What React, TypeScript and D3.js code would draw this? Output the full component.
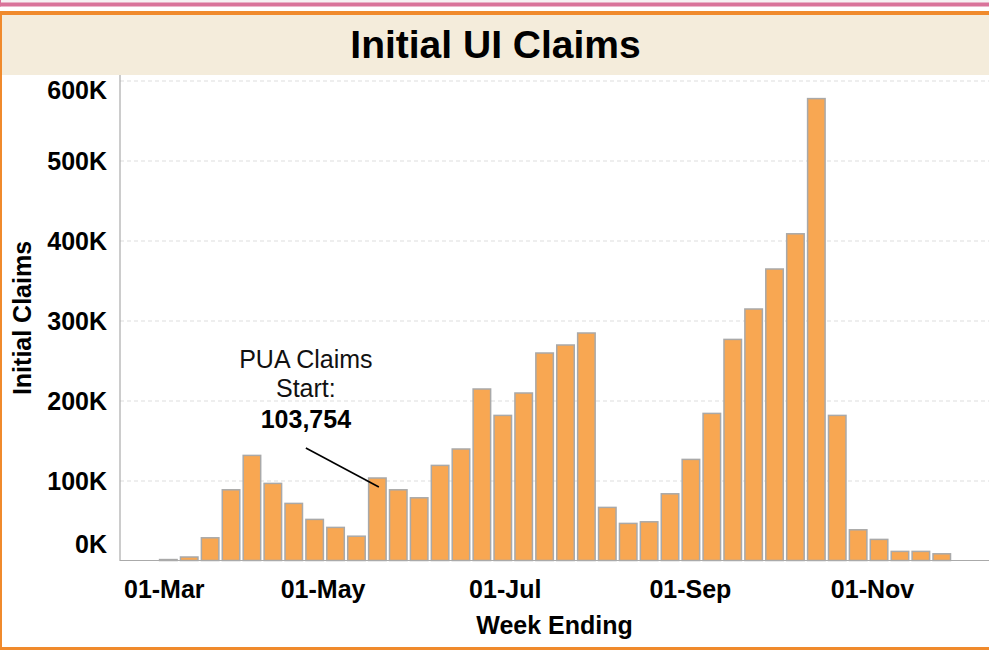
import React from 'react';
import * as d3 from 'd3';

// week-ending dates and initial UI claims
const weekEnding: string[] = [
  '2020-03-07', '2020-03-14', '2020-03-21', '2020-03-28', '2020-04-04', '2020-04-11',
  '2020-04-18', '2020-04-25', '2020-05-02', '2020-05-09', '2020-05-16', '2020-05-23',
  '2020-05-30', '2020-06-06', '2020-06-13', '2020-06-20', '2020-06-27', '2020-07-04',
  '2020-07-11', '2020-07-18', '2020-07-25', '2020-08-01', '2020-08-08', '2020-08-15',
  '2020-08-22', '2020-08-29', '2020-09-05', '2020-09-12', '2020-09-19', '2020-09-26',
  '2020-10-03', '2020-10-10', '2020-10-17', '2020-10-24', '2020-10-31', '2020-11-07',
  '2020-11-14', '2020-11-21',
];
const initialClaims: number[] = [
  1800, 5000, 29000, 89000, 132000, 97000,
  72000, 52000, 42000, 31000, 103754, 89000,
  79000, 119500, 140000, 215000, 182000, 210000,
  260000, 270000, 285000, 67000, 47000, 49000,
  84000, 127000, 184500, 277000, 315000, 365000,
  409000, 578000, 182000, 39000, 27000, 12000,
  12000, 9000,
];
const yTicks: number[] = [0, 100000, 200000, 300000, 400000, 500000, 600000];
const xTicks: string[] = ['2020-03-01', '2020-05-01', '2020-07-01', '2020-09-01', '2020-11-01'];
const annotationWeek = '2020-05-16';
const annotationLines: string[] = ['PUA Claims', 'Start:'];

const W = 989;
const H = 650;
const FONT = 'Liberation Sans, Arial, sans-serif';

const parse = d3.utcParse('%Y-%m-%d');
const fmtTick = d3.utcFormat('%d-%b');

const plot = { left: 120, right: 989, top: 75, bottom: 561 };

let measureCtx: CanvasRenderingContext2D | null = null;
const textWidth = (s: string, font: string) => {
  if (!measureCtx) measureCtx = document.createElement('canvas').getContext('2d');
  if (!measureCtx) return s.length * 13;
  measureCtx.font = font;
  return measureCtx.measureText(s).width;
};

const App: React.FC = () => {
  const x = d3
    .scaleUtc()
    .domain([parse('2020-02-23') as Date, parse('2020-12-10') as Date])
    .range([plot.left, plot.right]);
  const y = d3.scaleLinear().domain([0, 600000]).range([plot.bottom, 81]);

  const dates = weekEnding.map((d) => parse(d) as Date);
  const step = x(d3.utcDay.offset(dates[0], 7)) - x(dates[0]);
  const barW = step - 3.4;

  const tickFont = `bold 25px ${FONT}`;
  const cap = 25 * 0.716;

  // annotation anchor on the May 16 bar
  const ai = weekEnding.indexOf(annotationWeek);
  const px = x(dates[ai]) + 0.75 + barW / 2 + 1.5;
  const py = y(initialClaims[ai]) + 9;
  const tx = px - 73;

  return (
    <svg
      width={W}
      height={H}
      style={{ position: 'absolute', left: 0, top: 0, background: '#fff' }}
      fontFamily={FONT}
    >
      {/* frame bits */}
      <rect x={0} y={0} width={W} height={3} fill="#f6f1f3" />
      <rect x={0} y={2.5} width={W} height={4} fill="#d9739a" />
      <rect x={0} y={0} width={1} height={6.5} fill="#d9739a" />
      <rect x={0} y={11} width={W} height={4} fill="#f08a2c" />
      <rect x={0} y={11} width={2} height={H - 11} fill="#f08a2c" />
      <rect x={0} y={647} width={W} height={3} fill="#f08a2c" />
      <rect x={2} y={15} width={W - 2} height={plot.top - 15} fill="#f4ecdb" />

      <text
        x={(2 + W) / 2}
        y={58}
        textAnchor="middle"
        fontSize={39}
        fontWeight="bold"
        fill="#000"
      >
        Initial UI Claims
      </text>

      {/* gridlines */}
      {yTicks
        .filter((t) => t > 0)
        .map((t) => (
          <line
            key={`g${t}`}
            x1={plot.left}
            x2={plot.right}
            y1={y(t)}
            y2={y(t)}
            stroke="#e9e9e9"
            strokeWidth={1.3}
            strokeDasharray="4,3"
          />
        ))}

      {/* bars */}
      {dates.map((d, i) => (
        <rect
          key={weekEnding[i]}
          x={x(d) + 0.75}
          y={y(initialClaims[i])}
          width={barW}
          height={Math.max(0.5, plot.bottom - 0.5 - y(initialClaims[i]))}
          fill="#f8a752"
          stroke="#a9a9a9"
          strokeWidth={1.5}
        />
      ))}

      {/* axes */}
      <line x1={plot.left} x2={plot.left} y1={plot.top} y2={plot.bottom} stroke="#aaa" strokeWidth={1.2} />
      <line x1={plot.left} x2={plot.right} y1={plot.bottom - 0.5} y2={plot.bottom - 0.5} stroke="#aaa" strokeWidth={1.2} />

      {/* y tick labels, kept inside the pane like Tableau does */}
      {yTicks.map((t) => {
        let base = y(t) + cap / 2;
        if (base - cap < 81.5) base = 81.5 + cap;
        if (base > 552.5) base = 552.5;
        return (
          <text key={`y${t}`} x={107} y={base} textAnchor="end" fontSize={25} fontWeight="bold">
            {d3.format('~s')(t).replace('k', 'K') === '0' ? '0K' : `${t / 1000}K`}
          </text>
        );
      })}

      {/* x tick labels */}
      {xTicks.map((s) => {
        const d = parse(s) as Date;
        const label = fmtTick(d);
        const w = textWidth(label, tickFont);
        let cx = x(d);
        if (cx - w / 2 < plot.left + 4) cx = plot.left + 4 + w / 2;
        return (
          <text key={s} x={cx} y={598} textAnchor="middle" fontSize={25} fontWeight="bold">
            {label}
          </text>
        );
      })}

      <text
        x={(plot.left + plot.right) / 2}
        y={634}
        textAnchor="middle"
        fontSize={25}
        fontWeight="bold"
      >
        Week Ending
      </text>
      <text
        transform={`translate(31, ${(plot.top + plot.bottom) / 2}) rotate(-90)`}
        textAnchor="middle"
        fontSize={25}
        fontWeight="bold"
      >
        Initial Claims
      </text>

      {/* annotation */}
      <line x1={tx} y1={py - 39} x2={px} y2={py} stroke="#000" strokeWidth={1.6} />
      {annotationLines.map((l, i) => (
        <text key={l} x={tx} y={py - 119 + i * 29} textAnchor="middle" fontSize={25} fill="#111">
          {l}
        </text>
      ))}
      <text x={tx} y={py - 59} textAnchor="middle" fontSize={25} fontWeight="bold" fill="#000">
        {d3.format(',')(initialClaims[ai])}
      </text>
    </svg>
  );
};

export default App;
